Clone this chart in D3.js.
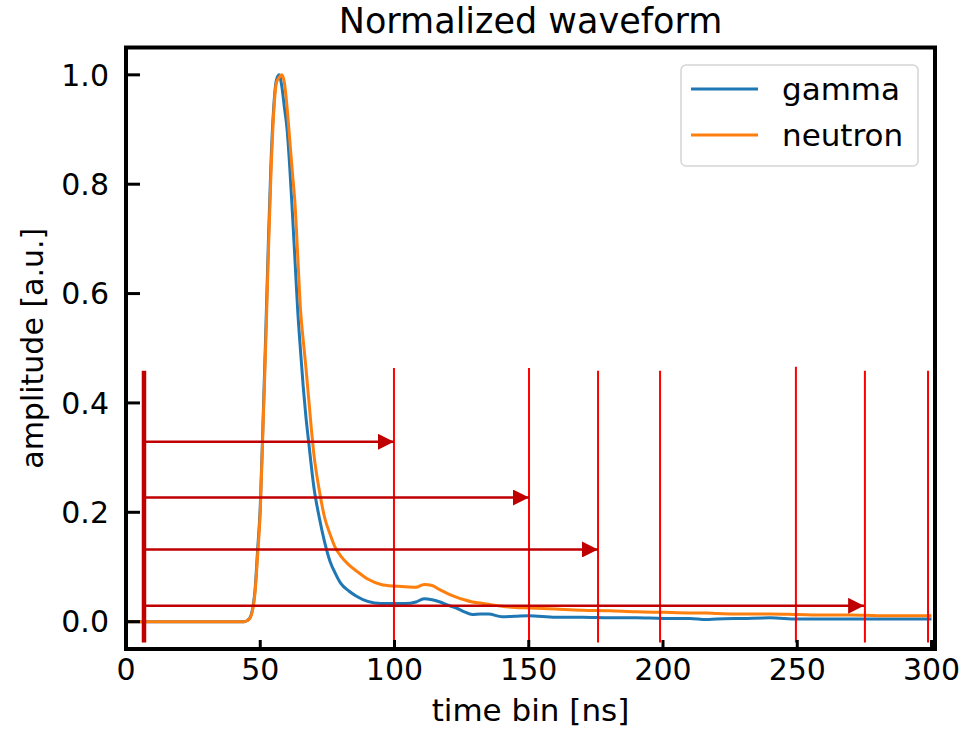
<!DOCTYPE html>
<html>
<head>
<meta charset="utf-8">
<script src="https://cdn.jsdelivr.net/npm/d3@7"></script>
<style>
  html, body { margin: 0; padding: 0; background: #fff; }
  svg { display: block; font-family: "DejaVu Sans", sans-serif; }
</style>
</head>
<body>
<svg id="chart" width="969" height="730"></svg>
<script>
// ---- data ----
const time = [0, 20, 40, 44, 46, 48, 49, 50, 51, 52, 53, 54, 55, 56, 57, 58, 59, 60, 61, 62, 63, 64, 65, 66, 67, 68, 70, 72, 74, 76, 78, 80, 83, 86, 90, 95, 100, 104, 108, 111, 114, 117, 120, 123, 126, 129, 132, 135, 140, 145, 150, 160, 170, 180, 190, 200, 210, 216, 220, 230, 240, 250, 260, 270, 280, 290, 300];
const gamma = [0, 0, 0, 0, 0.006, 0.055, 0.13, 0.21, 0.36, 0.52, 0.69, 0.84, 0.94, 0.99, 1.0, 0.98, 0.94, 0.9, 0.83, 0.745, 0.655, 0.565, 0.495, 0.43, 0.375, 0.33, 0.245, 0.19, 0.145, 0.11, 0.088, 0.07, 0.056, 0.046, 0.037, 0.033, 0.033, 0.033, 0.036, 0.042, 0.04, 0.036, 0.03, 0.025, 0.018, 0.013, 0.014, 0.014, 0.009, 0.01, 0.011, 0.008, 0.008, 0.007, 0.007, 0.006, 0.006, 0.004, 0.005, 0.006, 0.007, 0.005, 0.005, 0.005, 0.005, 0.005, 0.005];
const neutron = [0, 0, 0, 0, 0.005, 0.05, 0.12, 0.2, 0.35, 0.5, 0.67, 0.82, 0.93, 0.985, 0.995, 1.0, 0.985, 0.94, 0.88, 0.82, 0.76, 0.665, 0.57, 0.515, 0.465, 0.41, 0.305, 0.24, 0.19, 0.16, 0.135, 0.12, 0.104, 0.092, 0.078, 0.068, 0.065, 0.064, 0.063, 0.068, 0.066, 0.058, 0.051, 0.045, 0.04, 0.036, 0.034, 0.032, 0.028, 0.026, 0.025, 0.023, 0.021, 0.02, 0.018, 0.017, 0.016, 0.016, 0.015, 0.014, 0.014, 0.013, 0.012, 0.012, 0.011, 0.011, 0.011];
const seriesNames = ["gamma", "neutron"];
const seriesColors = ["#1f77b4", "#ff7f0e"];
const xTicks = [0, 50, 100, 150, 200, 250, 300];
const yTicks = [0.0, 0.2, 0.4, 0.6, 0.8, 1.0];
// annotations (data units)
const vLineX = [99.8, 150.1, 175.8, 198.9, 249.5, 275.2, 298.7];
const vLineTop = [0.464, 0.464, 0.459, 0.459, 0.466, 0.459, 0.459];
const vLineBottom = -0.038;
const startLineX = 6.7;
const startLineTop = 0.459;
const arrowY = [0.329, 0.227, 0.132, 0.029];
const arrowEnd = [99.8, 150.1, 175.8, 274.9];

// ---- layout ----
const svg = d3.select("#chart");
const L = 126, R = 935, T = 47.5, B = 649;
const x = d3.scaleLinear().domain([0, 301.3]).range([L, R]);
const y = d3.scaleLinear().domain([-0.05, 1.05]).range([B, T]);

svg.append("rect").attr("width", 969).attr("height", 730).attr("fill", "#fff");

const defs = svg.append("defs");
defs.append("clipPath").attr("id", "clip").append("rect")
  .attr("x", L).attr("y", T).attr("width", R - L).attr("height", B - T);
defs.append("marker").attr("id", "arrow")
  .attr("viewBox", "0 0 16 16").attr("refX", 16).attr("refY", 8)
  .attr("markerWidth", 16).attr("markerHeight", 16)
  .attr("markerUnits", "userSpaceOnUse").attr("orient", "auto")
  .append("path").attr("d", "M0,0 L16,8 L0,16 Z").attr("fill", "#c00000");

const plot = svg.append("g").attr("clip-path", "url(#clip)");

// series
const series = [gamma, neutron];
series.forEach((vals, i) => {
  const line = d3.line().x((d, j) => x(time[j])).y(d => y(d)).curve(d3.curveMonotoneX);
  plot.append("path").datum(vals)
    .attr("d", line).attr("fill", "none")
    .attr("stroke", seriesColors[i]).attr("stroke-width", 3)
    .attr("stroke-linejoin", "round");
});

// annotations
const ann = svg.append("g");
vLineX.forEach((vx, i) => {
  ann.append("line")
    .attr("x1", x(vx)).attr("x2", x(vx))
    .attr("y1", y(vLineTop[i])).attr("y2", y(vLineBottom))
    .attr("stroke", "#ff0000").attr("stroke-width", 2);
});
ann.append("line")
  .attr("x1", x(startLineX)).attr("x2", x(startLineX))
  .attr("y1", y(startLineTop)).attr("y2", y(vLineBottom))
  .attr("stroke", "#c00000").attr("stroke-width", 4.5);
arrowY.forEach((ay, i) => {
  ann.append("line")
    .attr("x1", x(startLineX)).attr("x2", x(arrowEnd[i]))
    .attr("y1", y(ay)).attr("y2", y(ay))
    .attr("stroke", "#c00000").attr("stroke-width", 2.5)
    .attr("marker-end", "url(#arrow)");
});

// ticks (inward)
const axes = svg.append("g");
xTicks.forEach(t => {
  axes.append("line").attr("x1", x(t)).attr("x2", x(t))
    .attr("y1", B).attr("y2", B - 9)
    .attr("stroke", "#000").attr("stroke-width", 3);
  axes.append("text").attr("x", x(t)).attr("y", B + 31)
    .attr("text-anchor", "middle").attr("font-size", 30)
    .text(d3.format("d")(t));
});
yTicks.forEach(t => {
  axes.append("line").attr("x1", L).attr("x2", L + 14)
    .attr("y1", y(t)).attr("y2", y(t))
    .attr("stroke", "#000").attr("stroke-width", 3);
  axes.append("text").attr("x", L - 17).attr("y", y(t))
    .attr("dy", "0.36em")
    .attr("text-anchor", "end").attr("font-size", 30)
    .text(d3.format(".1f")(t));
});

// frame
svg.append("rect").attr("x", L).attr("y", T).attr("width", R - L).attr("height", B - T)
  .attr("fill", "none").attr("stroke", "#000").attr("stroke-width", 4);

// titles
svg.append("text").attr("x", (L + R) / 2).attr("y", 33)
  .attr("text-anchor", "middle").attr("font-size", 35).text("Normalized waveform");
svg.append("text").attr("x", (L + R) / 2).attr("y", 721)
  .attr("text-anchor", "middle").attr("font-size", 31).text("time bin [ns]");
svg.append("text").attr("transform", `translate(43,${(T + B) / 2}) rotate(-90)`)
  .attr("text-anchor", "middle").attr("font-size", 30).text("amplitude [a.u.]");

// legend
const lg = svg.append("g");
lg.append("rect").attr("x", 681).attr("y", 65).attr("width", 237).attr("height", 101)
  .attr("rx", 5).attr("fill", "#fff").attr("fill-opacity", 0.8)
  .attr("stroke", "#d5d5d5").attr("stroke-width", 1.5);
seriesNames.forEach((n, i) => {
  const ly = 89 + i * 46;
  lg.append("line").attr("x1", 691).attr("x2", 758).attr("y1", ly).attr("y2", ly)
    .attr("stroke", seriesColors[i]).attr("stroke-width", 3);
  lg.append("text").attr("x", 782).attr("y", ly).attr("dy", "0.36em")
    .attr("font-size", 31).text(n);
});
</script>
</body>
</html>
